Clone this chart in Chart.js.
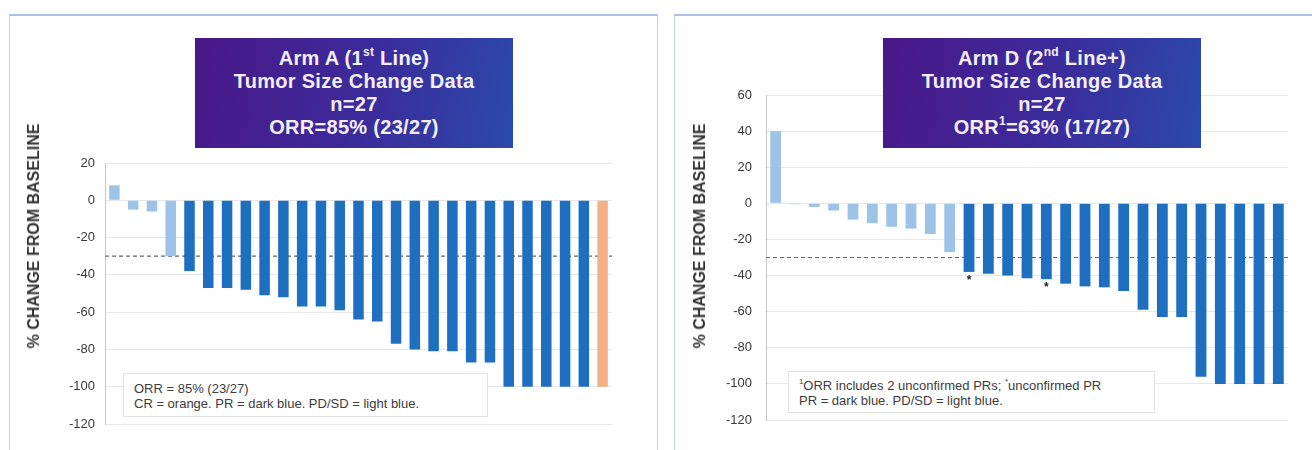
<!DOCTYPE html>
<html>
<head>
<meta charset="utf-8">
<title>Tumor Size Change Data</title>
<script src="https://cdn.jsdelivr.net/npm/chart.js@4.4.1/dist/chart.umd.min.js"></script>
<style>
  html, body {
    margin: 0;
    padding: 0;
    width: 1312px;
    height: 450px;
    overflow: hidden;
    background: #fff;
    font-family: "Liberation Sans", Arial, sans-serif;
  }
  .panel {
    position: absolute;
    top: 14px;
    height: 460px;
    box-sizing: border-box;
    border-top: 2px solid #a8c4e8;
    border-left: 1.5px solid #bcd2ee;
    border-right: 1.5px solid #bcd2ee;
  }
  #panel-a { left: 9px; width: 649px; }
  #panel-d { left: 674px; width: 660px; }
  canvas { position: absolute; top: 0; }
  .title-box {
    position: absolute;
    top: 38px;
    width: 318px;
    height: 110px;
    box-sizing: border-box;
    padding-top: 9px;
    background: linear-gradient(100deg, #4a1788 0%, #3b2c9b 55%, #2b4aaa 100%);
    color: #f3efff;
    font-weight: bold;
    font-size: 20px;
    line-height: 23px;
    letter-spacing: 0.3px;
    text-align: center;
  }
  .title-box sup, .note sup {
    font-size: 60%;
    line-height: 0;
    position: relative;
    top: -1px;
  }
  .y-title {
    position: absolute;
    font-weight: bold;
    font-size: 16px;
    color: #333;
    white-space: nowrap;
    transform: translate(-50%, -50%) rotate(-90deg);
  }
  .note {
    position: absolute;
    box-sizing: border-box;
    background: #fff;
    border: 1px solid #e2e2e2;
    padding: 7px 10px;
    font-size: 13px;
    line-height: 15px;
    color: #3c3c3c;
    white-space: nowrap;
  }
</style>
</head>
<body>
<div class="panel" id="panel-a"></div>
<div class="panel" id="panel-d"></div>

<canvas id="chart-arm-a" width="656" height="450" style="left:0"></canvas>
<canvas id="chart-arm-d" width="652" height="450" style="left:660px"></canvas>

<div class="y-title" style="left:34px; top:236px">% CHANGE FROM BASELINE</div>
<div class="y-title" style="left:700px; top:236px">% CHANGE FROM BASELINE</div>

<div class="title-box" style="left:195px">
  Arm A (1<sup>st</sup> Line)<br>Tumor Size Change Data<br>n=27<br>ORR=85% (23/27)
</div>
<div class="title-box" style="left:883px">
  Arm D (2<sup>nd</sup> Line+)<br>Tumor Size Change Data<br>n=27<br>ORR<sup>1</sup>=63% (17/27)
</div>

<div class="note" style="left:123px; top:373px; width:365px; height:44px">
  ORR = 85% (23/27)<br>CR = orange. PR = dark blue. PD/SD = light blue.
</div>
<div class="note" style="left:788px; top:371px; width:367px; height:42px; padding-top:6px">
  <sup>1</sup>ORR includes 2 unconfirmed PRs; <sup>*</sup>unconfirmed PR<br>PR = dark blue. PD/SD = light blue.
</div>

<script>
// Patients (one bar each), sorted as in the waterfall
const armALabels = ["A1","A2","A3","A4","A5","A6","A7","A8","A9","A10","A11","A12","A13","A14",
  "A15","A16","A17","A18","A19","A20","A21","A22","A23","A24","A25","A26","A27"];
const armAValues = [8, -5, -6, -30, -38, -47, -47, -48, -51, -52, -57, -57, -59, -64,
  -65, -77, -80, -81, -81, -87, -87, -100, -100, -100, -100, -100, -100];
const armAResponse = ["SD","SD","SD","SD","PR","PR","PR","PR","PR","PR","PR","PR","PR","PR",
  "PR","PR","PR","PR","PR","PR","PR","PR","PR","PR","PR","PR","CR"];

const armDLabels = ["D1","D2","D3","D4","D5","D6","D7","D8","D9","D10","D11","D12","D13","D14",
  "D15","D16","D17","D18","D19","D20","D21","D22","D23","D24","D25","D26","D27"];
const armDValues = [40, -0.5, -2, -4, -9, -11, -13, -14, -17, -27, -38, -39, -40, -41.5,
  -42, -44.5, -46, -46.5, -48.5, -59, -63, -63, -96, -100, -100, -100, -100];
const armDResponse = ["SD","SD","SD","SD","SD","SD","SD","SD","SD","SD","PR","PR","PR","PR",
  "PR","PR","PR","PR","PR","PR","PR","PR","PR","PR","PR","PR","PR"];
// bars flagged as unconfirmed PR (*)
const armDUnconfirmed = [10, 14];

// y axis ranges
const armAYRange = [-120, 20];
const armDYRange = [-120, 60];
const yStep = 20;
const orrThreshold = -30;

const responseColors = { CR: "#f4b183", PR: "#1f6fc0", SD: "#9dc3e6" };

// Dashed -30% line, behind the bars
const thresholdLine = {
  id: "thresholdLine",
  beforeDatasetsDraw(chart) {
    const { ctx, chartArea, scales } = chart;
    const y = scales.y.getPixelForValue(orrThreshold);
    ctx.save();
    ctx.strokeStyle = "#666";
    ctx.lineWidth = 1.2;
    ctx.setLineDash([4, 3]);
    ctx.beginPath();
    ctx.moveTo(chartArea.left, y);
    ctx.lineTo(chartArea.right, y);
    ctx.stroke();
    ctx.restore();
  },
};

// Asterisk under the unconfirmed PR bars
const unconfirmedMarks = {
  id: "unconfirmedMarks",
  afterDatasetsDraw(chart, args, opts) {
    if (!opts.indices || !opts.indices.length) return;
    const meta = chart.getDatasetMeta(0);
    const ctx = chart.ctx;
    ctx.save();
    ctx.fillStyle = "#222";
    ctx.font = "bold 12px 'Liberation Sans', Arial";
    ctx.textAlign = "center";
    ctx.textBaseline = "top";
    opts.indices.forEach((i) => {
      const bar = meta.data[i];
      ctx.fillText("*", bar.x, bar.y + 3);
    });
    ctx.restore();
  },
};

function renderWaterfall(canvasId, labels, values, responses, yRange, padding, tickPad, marks) {
  const ctx = document.getElementById(canvasId).getContext("2d");
  return new Chart(ctx, {
    type: "bar",
    data: {
      labels,
      datasets: [
        {
          data: values,
          backgroundColor: responses.map((r) => responseColors[r]),
          borderWidth: 0,
          barPercentage: 0.56,
          categoryPercentage: 1,
        },
      ],
    },
    plugins: [thresholdLine, unconfirmedMarks],
    options: {
      responsive: false,
      animation: false,
      layout: { padding },
      plugins: {
        legend: { display: false },
        tooltip: { enabled: false },
        unconfirmedMarks: { indices: marks },
      },
      scales: {
        x: { display: false },
        y: {
          min: yRange[0],
          max: yRange[1],
          afterFit: (scale) => { scale.width = 45; },
          ticks: {
            stepSize: yStep,
            padding: tickPad,
            color: "#3a3a3a",
            font: { family: "'Liberation Sans', Arial", size: 13 },
          },
          grid: { color: "#e7e7e7", drawTicks: false },
          border: { display: true, color: "#c6c6c6", width: 1 },
        },
      },
    },
  });
}

renderWaterfall("chart-arm-a", armALabels, armAValues, armAResponse, armAYRange,
  { left: 60, right: 44, top: 163, bottom: 26 }, 10, []);
renderWaterfall("chart-arm-d", armDLabels, armDValues, armDResponse, armDYRange,
  { left: 61, right: 24, top: 95, bottom: 30 }, 14, armDUnconfirmed);
</script>
</body>
</html>
